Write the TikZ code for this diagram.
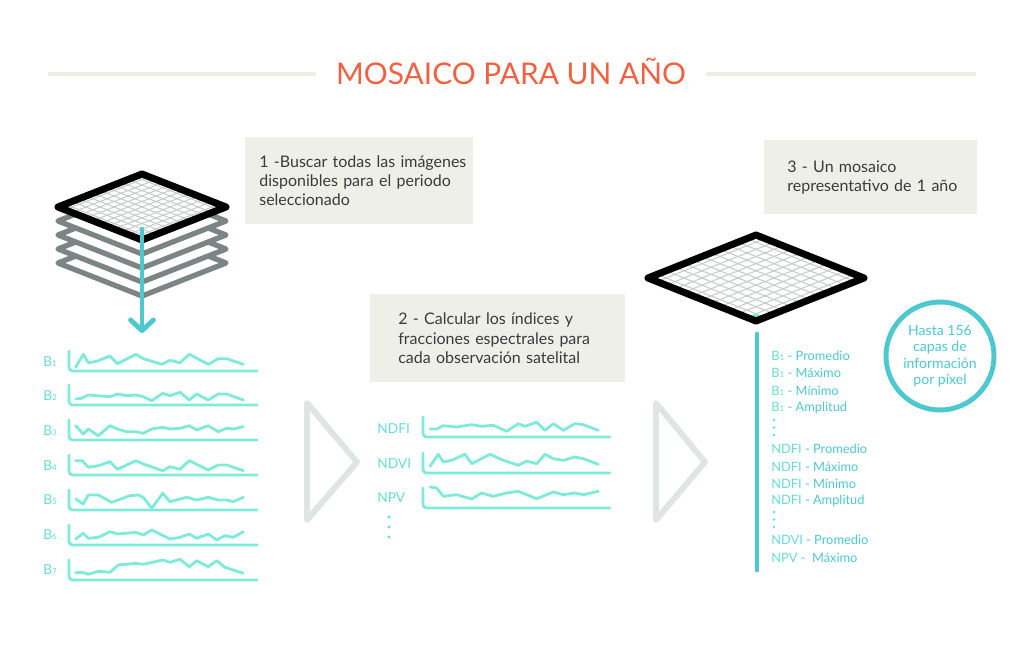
\documentclass[tikz,border=0pt]{standalone}
\usepackage{fontspec}
\setmainfont{Lato}
\usepackage{xcolor}
\usetikzlibrary{arrows.meta, calc, positioning}

\definecolor{rojotitulo}{HTML}{F2603F}
\definecolor{gristitulo}{HTML}{EEEEE6}
\definecolor{griscaja}{HTML}{EFEFEA}
\definecolor{griscapa}{HTML}{7C8584}
\definecolor{grisrejilla}{HTML}{C5CDCB}
\definecolor{grisflecha}{HTML}{DFE5E2}
\definecolor{menta}{HTML}{7EEAD9}
\definecolor{mentatexto}{HTML}{66DDD3}
\definecolor{turquesa}{HTML}{4CC8CE}
\definecolor{textocaja}{HTML}{3A3A3A}

\newcommand{\bsub}[1]{{\fontsize{4.6}{5}\selectfont #1}}

\begin{document}
\begin{tikzpicture}[x=0.02cm, y=-0.02cm,
    caja/.style={anchor=north west, fill=griscaja, text=textocaja, align=left,
        font=\fontsize{9.1}{11}\selectfont, inner ysep=0pt},
    capa/.style={draw=griscapa, fill=white, line width=3pt, line join=round},
    mosaico/.style={draw=black, line width=4pt, line join=round},
    rejilla/.style={draw=grisrejilla, line width=0.6pt},
    bajada/.style={draw=turquesa, line width=2.8pt, line cap=round, line join=round,
        -{Straight Barb[length=6pt, width=13pt, round]}},
    eje/.style={draw=menta, line width=1.6pt, rounded corners=2pt, line cap=round},
    serie/.style={draw=menta, line width=1.6pt, line join=round, line cap=round},
    banda/.style={anchor=west, text=mentatexto, font=\fontsize{7.8}{9}\selectfont, inner sep=0pt},
    capatexto/.style={anchor=west, text=turquesa, font=\fontsize{7.3}{9}\selectfont, inner sep=0pt},
    paso/.style={draw=grisflecha, line width=3.4pt, line join=round}]

    \useasboundingbox (0,0) rectangle (1024,659);

    % titulo
    \node[text=rojotitulo, font=\fontsize{17}{20}\selectfont, text height=12.2pt, text depth=0pt,
        inner ysep=0pt, inner xsep=0.4cm] (titulo) at (511,74) {MOSAICO PARA UN AÑO};
    \coordinate (lineaizq) at (48,74);
    \coordinate (lineader) at (976,74);
    \draw[gristitulo, line width=2.3pt] (lineaizq) -- (titulo.west);
    \draw[gristitulo, line width=2.3pt] (titulo.east) -- (lineader);

    % cajas de texto
    \node[caja, minimum width=4.56cm, minimum height=1.74cm, text width=4.0cm, inner xsep=0.28cm]
        (paso1) at (245,137) {\mbox{1 -Buscar todas las imágenes}\\\mbox{disponibles para el periodo}\\seleccionado};
    \node[caja, minimum width=5.1cm, minimum height=1.76cm, text width=3.98cm, inner xsep=0.56cm]
        (paso2) at (370,294) {\mbox{2 - Calcular los índices y}\\\mbox{fracciones espectrales para}\\\mbox{cada observación satelital}};
    \node[caja, minimum width=4.26cm, minimum height=1.48cm, text width=3.34cm, inner xsep=0.46cm]
        (paso3) at (764,140) {\mbox{3 - Un mosaico}\\\mbox{representativo de 1 año}};

    % pila de imagenes
    \foreach \k in {4,3,2,1}
        \draw[capa] (58,{207+14*\k}) -- (142,{174+14*\k}) -- (226,{207+14*\k}) -- (142,{240+14*\k}) -- cycle;
    \fill[white] (58,207) -- (142,174) -- (226,207) -- (142,240) -- cycle;
    \foreach \i in {1,...,11} {
        \draw[rejilla] ({58+7*\i},{207-2.75*\i}) -- ({142+7*\i},{240-2.75*\i});
        \draw[rejilla] ({58+7*\i},{207+2.75*\i}) -- ({142+7*\i},{174+2.75*\i});
    }
    \draw[mosaico] (58,207) -- (142,174) -- (226,207) -- (142,240) -- cycle;

    \coordinate (flechaini) at (142,229);
    \coordinate (flechafin) at (142,333);
    \draw[bajada] (flechaini) -- (flechafin);

    % bandas
    \node[banda] (b1) at (43,362) {B\bsub{1}};
    \draw[eje] (69,351) |- (257,371);
    \draw[serie, shift={(69,371)}] plot coordinates {(6.7,-4) (14.3,-16.7) (19.3,-8.3) (27.7,-9.7) (41,-15) (48.3,-7.3) (67,-16.7) (74.3,-12.3) (92.7,-6.7) (101,-10.7) (111,-8.3) (120.3,-16.7) (139.3,-6.7) (149.3,-12.3) (157.7,-12.3) (174.3,-6.7)};

    \node[banda] (b2) at (43,396) {B\bsub{2}};
    \draw[eje] (69,385) |- (257,405);
    \draw[serie, shift={(69,405)}] plot coordinates {(6.7,-6) (12.7,-6.7) (19.3,-10) (41,-8.3) (48.3,-11) (57.7,-9.3) (67,-10) (74.3,-8.3) (82.7,-4.3) (93.7,-11.7) (101,-9.3) (111,-12.7) (120.3,-5) (127.7,-11) (139.3,-5) (149.3,-11) (157.7,-11) (174.3,-5)};

    \node[banda] (b3) at (43,431) {B\bsub{3}};
    \draw[eje] (69,420) |- (257,440);
    \draw[serie, shift={(69,440)}] plot coordinates {(6.7,-14.3) (14.3,-6) (19.3,-11) (29.3,-4.3) (41,-14.3) (48.3,-11) (57.7,-8.3) (67,-8.3) (74.3,-6.7) (82.7,-11) (93.7,-12.7) (101,-11) (111,-11.7) (120.3,-14.3) (127.7,-10) (139.3,-14.3) (149.3,-8.3) (157.7,-11.7) (164.3,-11) (174.3,-13.3)};

    \node[banda] (b4) at (43,466) {B\bsub{4}};
    \draw[eje] (69,455) |- (257,475);
    \draw[serie, shift={(69,475)}] plot coordinates {(6.7,-14.3) (13.3,-14.3) (19.3,-7.7) (29.3,-9.3) (41,-13.3) (48.3,-5.7) (67,-14.3) (74.3,-11) (93.7,-4.3) (101,-8.3) (111,-5.7) (120.3,-14.3) (139.3,-5) (149.3,-10) (157.7,-10) (174.3,-4.3)};

    \node[banda] (b5) at (43,500) {B\bsub{5}};
    \draw[eje] (69,490) |- (257,510);
    \draw[serie, shift={(69,510)}] plot coordinates {(6.7,-11) (14.3,-6) (19.3,-15) (29.3,-15) (42.7,-7.7) (61,-14.3) (69.3,-15) (74.3,-12.7) (82.7,-1.7) (93.7,-16.7) (101,-8.3) (117.7,-12.7) (127.7,-10) (139.3,-12.7) (149.3,-10) (157.7,-10) (164.3,-8.3) (174.3,-12.7)};

    \node[banda] (b6) at (43,535) {B\bsub{6}};
    \draw[eje] (69,525) |- (257,545);
    \draw[serie, shift={(69,545)}] plot coordinates {(6.7,-6) (14.3,-11.7) (19.3,-6.7) (29.3,-7.7) (41,-13.3) (48.3,-11) (67,-12.7) (74.3,-10) (82.7,-15) (101,-6) (111,-7.7) (120.3,-11) (127.7,-6.7) (139.3,-11) (147.7,-5) (156,-9.3) (164.3,-7.7) (174.3,-13.3)};

    \node[banda] (b7) at (43,570) {B\bsub{7}};
    \draw[eje] (69,560) |- (257,580);
    \draw[serie, shift={(69,580)}] plot coordinates {(6.7,-7.3) (13.3,-7.7) (19.3,-5.7) (29.3,-8.7) (41,-7.7) (49.3,-15) (67,-16.7) (74.3,-15.7) (86,-18.3) (93.7,-20) (101,-17.7) (111,-20.7) (120.3,-13.3) (127.7,-19.3) (139.3,-13.3) (147.7,-19.3) (156,-12.7) (174.3,-6.7)};

    % flechas de paso
    \draw[paso] (307,403) -- (357,462) -- (307,520) -- cycle;
    \draw[paso] (656,403) -- (705,462) -- (656,520) -- cycle;

    % indices
    \node[banda] (ndfi) at (377,429) {NDFI};
    \draw[eje] (423,417) |- (610,437);
    \draw[serie, shift={(423,437)}] plot coordinates {(7,-8) (13.7,-8) (20.3,-11.3) (33.7,-10) (48.7,-12.3) (58.7,-10.7) (70.3,-11.7) (83.7,-5.7) (95.3,-13.3) (102,-10.7) (113.7,-14.7) (122,-6.7) (130.3,-13.3) (140.3,-6.7) (152,-13.3) (160.3,-12.3) (175.3,-6.7)};

    \node[banda] (ndvi) at (377,464) {NDVI};
    \draw[eje] (423,453) |- (610,473);
    \draw[serie, shift={(423,473)}] plot coordinates {(7,-6.7) (15.3,-18.7) (20.3,-11) (28.7,-12.7) (42,-18.7) (48.7,-9.3) (67,-18.7) (80.3,-12.7) (95.3,-7.7) (103.7,-12) (113.7,-9.3) (122,-18.7) (130.3,-14.3) (140.3,-12.7) (152,-16) (160.3,-14.3) (175.3,-8.7)};

    \node[banda] (npv) at (377,498) {NPV};
    \draw[eje] (423,488) |- (610,508);
    \draw[serie, shift={(423,508)}] plot coordinates {(7,-21) (13.7,-20) (20.3,-11.7) (33.7,-13.3) (48.7,-9) (58.7,-15) (70.3,-11.7) (83.7,-15) (95.3,-16.7) (113.7,-9.3) (130.3,-16) (140.3,-13.3) (152,-15) (160.3,-13.3) (175.3,-16.7)};

    \foreach \y in {517,527,537}
        \fill[mentatexto] (389,\y) circle (1.6);

    % mosaico final
    \fill[white] (648,278) -- (756,235) -- (864,278) -- (756,321) -- cycle;
    \foreach \i in {1,...,11} {
        \draw[rejilla] ({648+9*\i},{278-3.5833*\i}) -- ({756+9*\i},{321-3.5833*\i});
        \draw[rejilla] ({648+9*\i},{278+3.5833*\i}) -- ({756+9*\i},{235+3.5833*\i});
    }
    \fill[menta] (747,317.4) -- (756,321) -- (765,317.4) -- (756,313.8) -- cycle;
    \draw[mosaico] (648,278) -- (756,235) -- (864,278) -- (756,321) -- cycle;

    \coordinate (barraini) at (757,334);
    \coordinate (barrafin) at (757,570);
    \draw[turquesa, line width=2.8pt, line cap=round] (barraini) -- (barrafin);

    % capas del mosaico
    \node[capatexto] (c1) at (771,356) {\textcolor{mentatexto}{B\bsub{1}} - Promedio};
    \node[capatexto] (c2) at (771,373) {\textcolor{mentatexto}{B\bsub{1}} - Máximo};
    \node[capatexto] (c3) at (771,391) {\textcolor{mentatexto}{B\bsub{1}} - Mínimo};
    \node[capatexto] (c4) at (771,408) {\textcolor{mentatexto}{B\bsub{1}} - Amplitud};
    \foreach \y in {420,427.5,435}
        \fill[mentatexto] (774,\y) circle (1.4);
    \node[capatexto] (c5) at (771,449) {\textcolor{mentatexto}{NDFI} - Promedio};
    \node[capatexto] (c6) at (771,467) {\textcolor{mentatexto}{NDFI} - Máximo};
    \node[capatexto] (c7) at (771,484) {\textcolor{mentatexto}{NDFI} - Mínimo};
    \node[capatexto] (c8) at (771,501) {\textcolor{mentatexto}{NDFI} - Amplitud};
    \foreach \y in {512,519.5,527}
        \fill[mentatexto] (774,\y) circle (1.4);
    \node[capatexto] (c9) at (771,540) {\textcolor{mentatexto}{NDVI} - Promedio};
    \node[capatexto] (c10) at (771,558) {\textcolor{mentatexto}{NPV} -\ \ Máximo};

    \node[circle, draw=turquesa, line width=2.8pt, minimum size=2.16cm, align=center, text=turquesa,
        font=\fontsize{8}{9.4}\selectfont, inner sep=0pt] (hasta) at (940,356)
        {Hasta 156\\capas de\\información\\por píxel};
\end{tikzpicture}
\end{document}
